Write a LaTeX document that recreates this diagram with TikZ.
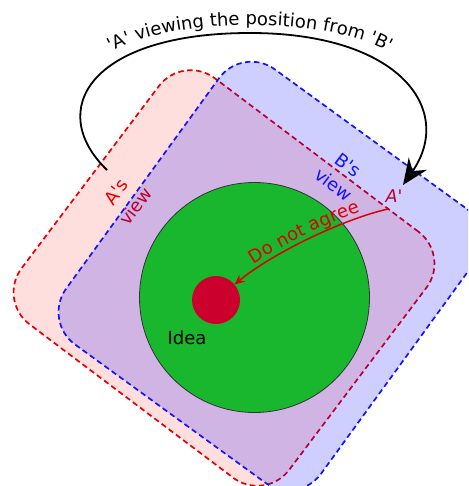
\documentclass[tikz,border=0pt]{standalone}
\usepackage{fontspec}
\newfontfamily\dv{DejaVu Sans}
\usetikzlibrary{arrows.meta,decorations.text}
\definecolor{ared}{RGB}{230,0,0}
\definecolor{bblue}{RGB}{20,20,245}
\definecolor{ideagreen}{RGB}{24,183,46}
\definecolor{dotred}{RGB}{204,0,44}
\definecolor{arrred}{RGB}{220,0,0}
\begin{document}
\begin{tikzpicture}[x=1pt,y=-1pt,
  viewbox/.style={rectangle, inner sep=0pt, outer sep=0pt, rounded corners=40pt, line width=1.7pt, dash pattern=on 5.5pt off 3.5pt},
  lab/.style={font=\dv\fontsize{18}{24}\selectfont, inner sep=0pt, align=center}]
\useasboundingbox (0,0) rectangle (468,486);
\clip (0,0) rectangle (468,486);
% A's view
\node[viewbox, draw=ared, fill=red, fill opacity=0.13, minimum width=335pt, minimum height=308pt, rotate=-37] (aview) at (224,278) {};
\node[lab, text=ared, rotate=53] (alabel) at (126,199) {A's\\view};
\node[lab, text=ared, font=\dv\itshape\fontsize{17.5}{20}\selectfont] (aprime) at (394,196) {A'};
% B's view
\node[viewbox, draw=bblue, fill=blue, fill opacity=0.19, minimum width=315pt, minimum height=340pt, rotate=-36] (bview) at (270,276) {};
\node[lab, text=bblue, rotate=-37] (blabel) at (341,175) {B's\\view};
% idea
\node[circle, draw=black!80, line width=0.8pt, fill=ideagreen, minimum size=230pt, inner sep=0pt] (idea) at (254.5,297.5) {};
\node[circle, fill=dotred, minimum size=48pt, inner sep=0pt] (dot) at (216,300) {};
\node[lab] (idealabel) at (187,338) {Idea};
% do not agree
\coordinate (astart) at (388,209);
\draw[arrred, line width=1.5pt, -{Stealth[length=10pt,width=9pt,inset=3.5pt]}] (astart) .. controls (340,220) and (270,255) .. (dot);
\path[decorate, decoration={text along path, text={|\dv\fontsize{18}{20}\selectfont\color{arrred}|Do not agree}, text align=center, raise=5pt}] (dot) .. controls (270,255) and (340,220) .. (astart);
% viewing arc
\coordinate (cstart) at (107,170);
\coordinate (cend) at (403,185);
\draw[line width=1.8pt, -{Stealth[length=26pt,width=22pt,inset=9pt]}] (cstart) .. controls (45,110) and (90,33) .. (250,33) .. controls (400,33) and (455,110) .. (cend);
\path[decorate, decoration={text along path, text={|\dv\fontsize{18}{20}\selectfont|'A' viewing the position from 'B'}, text align=center}] (106,55) .. controls (170,15) and (330,15) .. (394,55);
\end{tikzpicture}
\end{document}
